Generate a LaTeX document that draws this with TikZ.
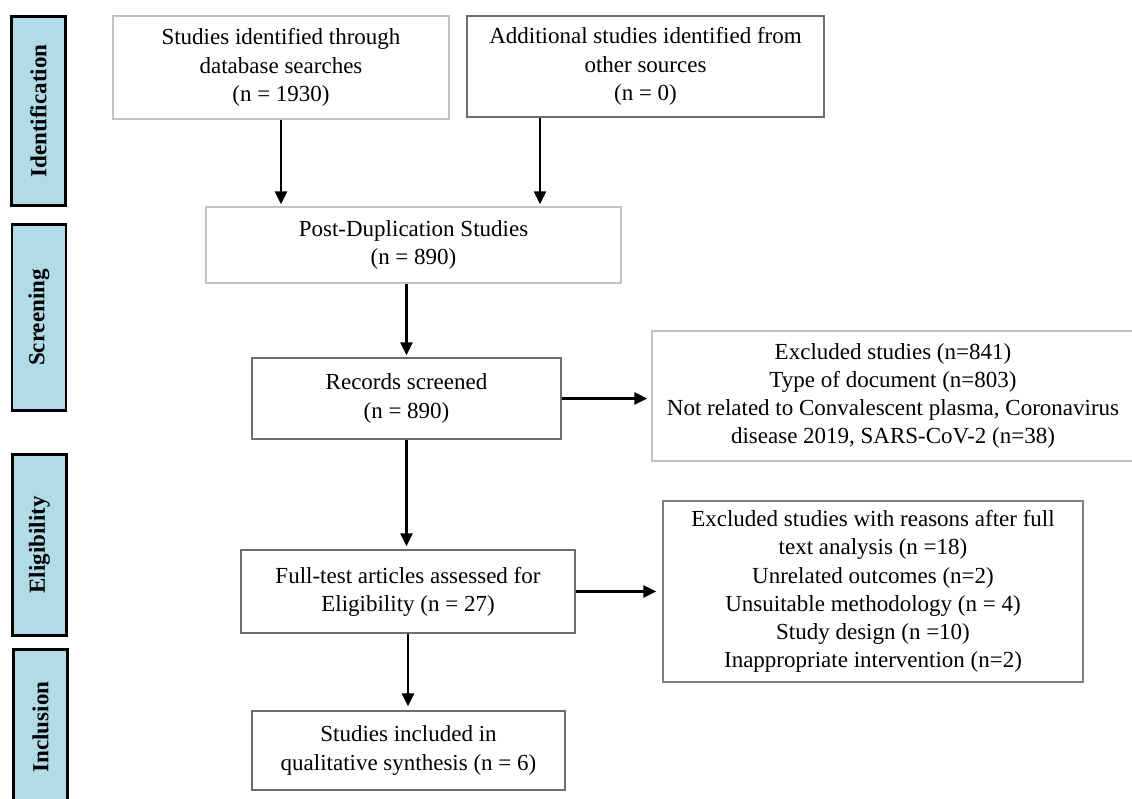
\documentclass[tikz,border=0pt]{standalone}
\usepackage{fontspec}
\setmainfont{Liberation Serif}
\usetikzlibrary{arrows.meta}
\definecolor{phasefill}{RGB}{178,219,232}
\definecolor{lightedge}{RGB}{195,195,195}
\definecolor{darkedge}{RGB}{110,110,110}
\begin{document}
\begin{tikzpicture}[x=1pt,y=-1pt,
  box/.style={draw=darkedge, line width=1.3pt, fill=white, align=center, inner sep=0pt,
    font=\fontsize{23}{28.2}\selectfont, text=black},
  lightbox/.style={box, draw=lightedge},
  phase/.style={draw=black, line width=2.6pt, fill=phasefill, rotate=90, inner sep=0pt,
    font=\fontsize{23}{28}\selectfont\bfseries},
  arr/.style={line width=2.6pt, -{Triangle[length=13pt,width=12pt]}, shorten >=3pt}]
\useasboundingbox (0,0) rectangle (1132,798);
\clip (0,0) rectangle (1132,798);
\fill[white] (0,0) rectangle (1132,798);

% phase labels
\node[phase, minimum width=189pt, minimum height=54pt] (id) at (38.5,111) {Identification};
\node[phase, minimum width=186pt, minimum height=54pt] (sc) at (39,317.5) {Screening};
\node[phase, minimum width=181pt, minimum height=54pt] (el) at (39.5,545) {Eligibility};
\node[phase, minimum width=155pt, minimum height=54pt] (in) at (40.5,727) {Inclusion};

% boxes
\node[lightbox, minimum width=336pt, minimum height=103pt] (A) at (281,67.5)
  {Studies identified through\\database searches\\(n = 1930)};
\node[box, minimum width=357pt, minimum height=101pt] (B) at (645.5,66.5)
  {Additional studies identified from\\other sources\\(n = 0)};
\node[lightbox, minimum width=415pt, minimum height=76pt] (C) at (413.5,245)
  {Post-Duplication Studies\\(n = 890)};
\node[box, minimum width=309pt, minimum height=81pt] (D) at (406.5,398.5)
  {Records screened\\(n = 890)};
\node[lightbox, minimum width=482pt, minimum height=130pt] (E) at (893,396)
  {Excluded studies (n=841)\\Type of document (n=803)\\Not related to Convalescent plasma, Coronavirus\\disease 2019, SARS-CoV-2 (n=38)};
\node[box, minimum width=334pt, minimum height=83pt] (F) at (408,591.5)
  {Full-test articles assessed for\\Eligibility (n = 27)};
\node[box, minimum width=313pt, minimum height=79pt] (G) at (408.5,750.5)
  {Studies included in\\qualitative synthesis (n = 6)};
\node[box, draw=gray, minimum width=420pt, minimum height=181pt] (H) at (873,591.5)
  {Excluded studies with reasons after full\\text analysis (n =18)\\Unrelated outcomes (n=2)\\Unsuitable methodology (n = 4)\\Study design (n =10)\\Inappropriate intervention (n=2)};

% connectors
\draw[arr, shorten >=2pt] (A.south) -- (A.south |- C.north);
\draw[arr, shorten >=2pt] ([xshift=-105.5pt]B.south) -- ([xshift=-105.5pt]B.south |- C.north);
\draw[arr, shorten >=2pt] (D.north |- C.south) -- (D.north);
\draw[arr, shorten >=4pt] (D.east) -- (D.east -| E.west);
\draw[arr] (D.south) -- (D.south |- F.north);
\draw[arr, shorten >=6pt] (F.east) -- (F.east -| H.west);
\draw[arr, shorten >=4pt] (F.south) -- (F.south |- G.north);
\end{tikzpicture}
\end{document}
